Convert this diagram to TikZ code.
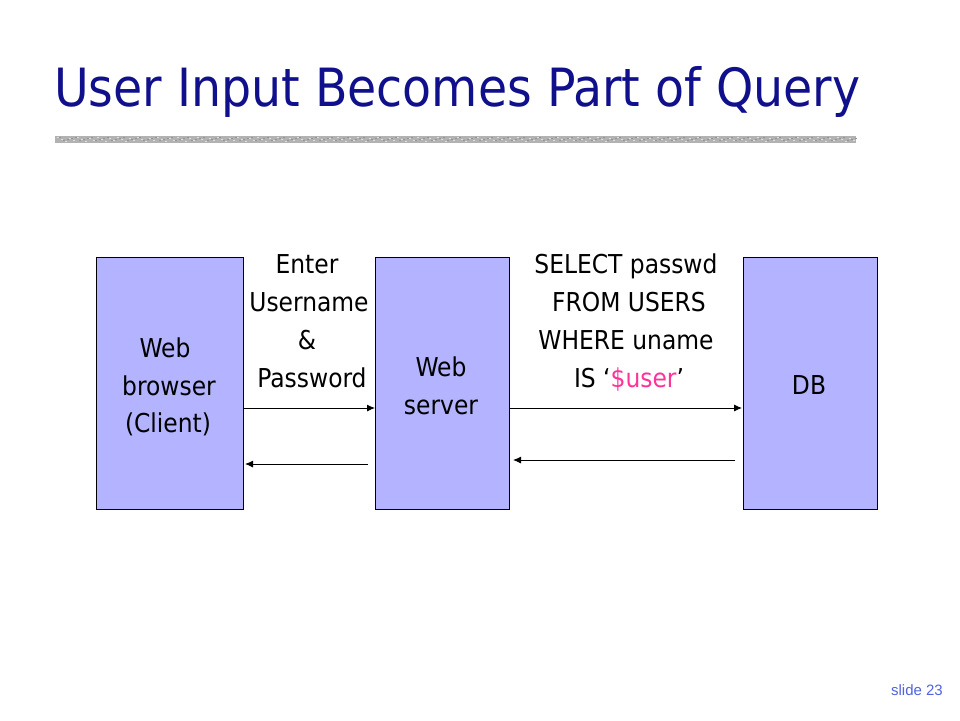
\documentclass[tikz,border=0pt]{standalone}
\usepackage{fontspec}
\setmainfont{DejaVu Sans Condensed}
\newfontfamily\slidefont{Liberation Sans}
\usetikzlibrary{arrows.meta}
\definecolor{titleblue}{RGB}{16,16,140}
\definecolor{boxfill}{RGB}{179,179,255}
\definecolor{userpink}{RGB}{255,51,153}
\definecolor{slideblue}{RGB}{80,100,220}
\tikzset{
  box/.style={draw=black, fill=boxfill, line width=0.8pt},
  txt/.style={anchor=base, inner sep=0pt, font=\fontsize{26}{38}\selectfont},
  conn/.style={draw=black, line width=0.9pt, -{Latex[length=8pt,width=7pt]}},
}
\begin{document}
\begin{tikzpicture}[x=1pt,y=-1pt]
\useasboundingbox[fill=white] (0,0) rectangle (960,720);
% title
\node[anchor=base west, inner sep=0pt, text=titleblue, font=\fontsize{52.7}{62}\selectfont] (title) at (54,106) {User Input Becomes Part of Query};
% separator bar
\fill[gray!60] (55,136) rectangle (856,143);
\foreach \i in {0,...,199} {
  \pgfmathsetmacro{\xx}{57+4*\i}
  \pgfmathsetmacro{\yy}{137+mod(\i*7,5)}
  \pgfmathsetmacro{\xb}{59+4*\i}
  \pgfmathsetmacro{\yb}{137+mod(\i*3,4)}
  \fill[gray!25] (\xx,\yy) rectangle ++(2,1.3);
  \fill[gray!85] (\xb,\yb) rectangle ++(1.5,1.2);
}
% boxes
\draw[box] (96,257) rectangle (243,509);
\draw[box] (375,257) rectangle (509,509);
\draw[box] (743,257) rectangle (877,509);
% box texts
\node[txt] (w1) at (165,357) {Web};
\node[txt] (w2) at (169,395) {browser};
\node[txt] (w3) at (168,432) {(Client)};
\node[txt] (s1) at (441,376) {Web};
\node[txt] (s2) at (441,414) {server};
\node[txt] (db) at (809,394) {DB};
% left labels
\node[txt] (l1) at (307,273) {Enter};
\node[txt] (l2) at (309,311) {Username};
\node[txt] (l3) at (307,349) {\&};
\node[txt] (l4) at (312,387) {Password};
% right labels
\node[txt] (r1) at (626,273) {SELECT passwd};
\node[txt] (r2) at (629,311) {FROM USERS};
\node[txt] (r3) at (626,349) {WHERE uname};
\node[txt] (r4) at (629,387) {IS `\textcolor{userpink}{\$user}'};
% arrows
\coordinate (a1s) at (243,408); \coordinate (a1e) at (375,408);
\coordinate (a2s) at (368,464); \coordinate (a2e) at (245,464);
\coordinate (a3s) at (509,408); \coordinate (a3e) at (742,408);
\coordinate (a4s) at (735,460); \coordinate (a4e) at (513,460);
\draw[conn] (a1s) -- (a1e);
\draw[conn] (a2s) -- (a2e);
\draw[conn] (a3s) -- (a3e);
\draw[conn] (a4s) -- (a4e);
% slide number
\node[anchor=base east, inner sep=0pt, text=slideblue, font=\slidefont\fontsize{15}{18}\selectfont] (slide) at (943,695) {slide 23};
\end{tikzpicture}
\end{document}
